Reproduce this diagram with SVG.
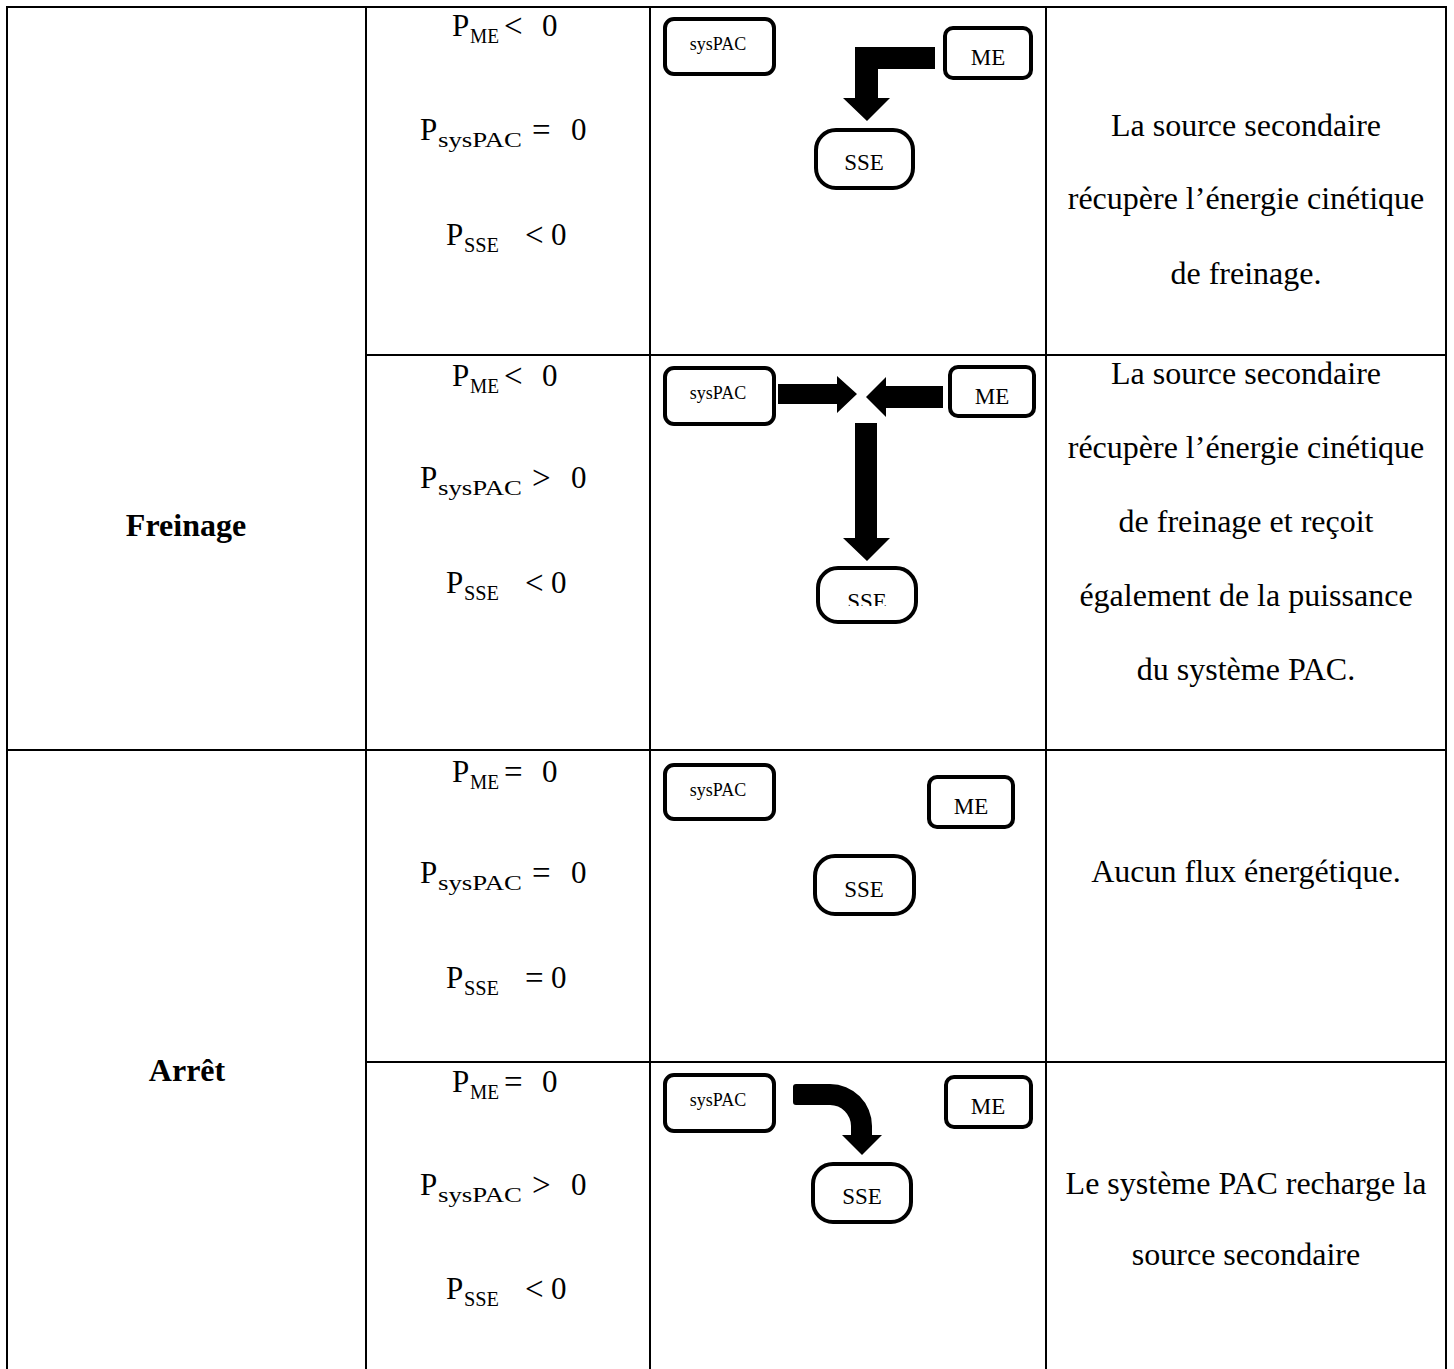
<svg xmlns="http://www.w3.org/2000/svg" width="1454" height="1369" viewBox="0 0 1454 1369">
<style>
.grid{stroke:#000;stroke-width:2;fill:none}
.box{fill:#fff;stroke:#000;stroke-width:4}
.t{font-family:"Liberation Serif","Times New Roman",serif;fill:#000}
.body{font-size:32px;text-anchor:middle}
.head{font-size:32px;font-weight:bold;text-anchor:middle}
.f{font-size:31px}
.sub{font-size:22px}
.rel{font-size:33px}
.lab{font-size:18px;text-anchor:middle}
.me{font-size:23px;text-anchor:middle}
.sse{font-size:23px;text-anchor:middle}
.arrow{fill:#000;stroke:none}
</style>
<defs>
<clipPath id="clipSSE2"><rect x="800" y="560" width="130" height="46"/></clipPath>
</defs>
<rect width="1454" height="1369" fill="#fff"/>
<g id="table">
<line class="grid" x1="6" y1="7" x2="1447" y2="7"/>
<line class="grid" x1="7" y1="6" x2="7" y2="1369"/>
<line class="grid" x1="366" y1="6" x2="366" y2="1369"/>
<line class="grid" x1="650" y1="6" x2="650" y2="1369"/>
<line class="grid" x1="1046" y1="6" x2="1046" y2="1369"/>
<line class="grid" x1="1446" y1="6" x2="1446" y2="1369"/>
<line class="grid" x1="366" y1="355" x2="1447" y2="355"/>
<line class="grid" x1="6" y1="750" x2="1447" y2="750"/>
<line class="grid" x1="366" y1="1062" x2="1447" y2="1062"/>
</g>
<g id="mode-labels">
<text class="t head" x="186" y="536">Freinage</text>
<text class="t head" x="187" y="1081">Arrêt</text>
</g>
<g id="formulas">
<text class="t f"><tspan x="452" y="36">P</tspan><tspan class="sub" x="470" y="43" textLength="29" lengthAdjust="spacingAndGlyphs">ME</tspan><tspan class="rel" x="504" y="37">&lt;</tspan><tspan x="542" y="36">0</tspan></text>
<text class="t f"><tspan x="420" y="140">P</tspan><tspan class="sub" x="438" y="147" textLength="84" lengthAdjust="spacingAndGlyphs">sysPAC</tspan><tspan class="rel" x="532" y="141">=</tspan><tspan x="571" y="140">0</tspan></text>
<text class="t f"><tspan x="446" y="245">P</tspan><tspan class="sub" x="464" y="252" textLength="35" lengthAdjust="spacingAndGlyphs">SSE</tspan><tspan class="rel" x="525" y="246">&lt;</tspan><tspan x="551" y="245">0</tspan></text>

<text class="t f"><tspan x="452" y="386">P</tspan><tspan class="sub" x="470" y="393" textLength="29" lengthAdjust="spacingAndGlyphs">ME</tspan><tspan class="rel" x="504" y="387">&lt;</tspan><tspan x="542" y="386">0</tspan></text>
<text class="t f"><tspan x="420" y="488">P</tspan><tspan class="sub" x="438" y="495" textLength="84" lengthAdjust="spacingAndGlyphs">sysPAC</tspan><tspan class="rel" x="532" y="489">&gt;</tspan><tspan x="571" y="488">0</tspan></text>
<text class="t f"><tspan x="446" y="593">P</tspan><tspan class="sub" x="464" y="600" textLength="35" lengthAdjust="spacingAndGlyphs">SSE</tspan><tspan class="rel" x="525" y="594">&lt;</tspan><tspan x="551" y="593">0</tspan></text>

<text class="t f"><tspan x="452" y="782">P</tspan><tspan class="sub" x="470" y="789" textLength="29" lengthAdjust="spacingAndGlyphs">ME</tspan><tspan class="rel" x="504" y="783">=</tspan><tspan x="542" y="782">0</tspan></text>
<text class="t f"><tspan x="420" y="883">P</tspan><tspan class="sub" x="438" y="890" textLength="84" lengthAdjust="spacingAndGlyphs">sysPAC</tspan><tspan class="rel" x="532" y="884">=</tspan><tspan x="571" y="883">0</tspan></text>
<text class="t f"><tspan x="446" y="988">P</tspan><tspan class="sub" x="464" y="995" textLength="35" lengthAdjust="spacingAndGlyphs">SSE</tspan><tspan class="rel" x="525" y="989">=</tspan><tspan x="551" y="988">0</tspan></text>

<text class="t f"><tspan x="452" y="1092">P</tspan><tspan class="sub" x="470" y="1099" textLength="29" lengthAdjust="spacingAndGlyphs">ME</tspan><tspan class="rel" x="504" y="1093">=</tspan><tspan x="542" y="1092">0</tspan></text>
<text class="t f"><tspan x="420" y="1195">P</tspan><tspan class="sub" x="438" y="1202" textLength="84" lengthAdjust="spacingAndGlyphs">sysPAC</tspan><tspan class="rel" x="532" y="1196">&gt;</tspan><tspan x="571" y="1195">0</tspan></text>
<text class="t f"><tspan x="446" y="1299">P</tspan><tspan class="sub" x="464" y="1306" textLength="35" lengthAdjust="spacingAndGlyphs">SSE</tspan><tspan class="rel" x="525" y="1300">&lt;</tspan><tspan x="551" y="1299">0</tspan></text>
</g>
<g id="descriptions">
<text class="t body"><tspan x="1246" y="136">La source secondaire</tspan><tspan x="1246" y="209">récupère l’énergie cinétique</tspan><tspan x="1246" y="284">de freinage.</tspan></text>
<text class="t body"><tspan x="1246" y="384">La source secondaire</tspan><tspan x="1246" y="458">récupère l’énergie cinétique</tspan><tspan x="1246" y="532">de freinage et reçoit</tspan><tspan x="1246" y="606">également de la puissance</tspan><tspan x="1246" y="680">du système PAC.</tspan></text>
<text class="t body" x="1246" y="882">Aucun flux énergétique.</text>
<text class="t body"><tspan x="1246" y="1194">Le système PAC recharge la</tspan><tspan x="1246" y="1265">source secondaire</tspan></text>
</g>
<!-- Row 1 -->
<g id="r1-sysPAC"><rect class="box" x="665" y="19" width="109" height="55" rx="9"/><text class="t lab" x="718" y="50">sysPAC</text></g>
<g id="r1-ME"><rect class="box" x="945" y="28" width="86" height="50" rx="8"/><text class="t me" x="988" y="65">ME</text></g>
<g id="r1-SSE"><rect class="box" x="816" y="130" width="97" height="58" rx="20"/><text class="t sse" x="864" y="170">SSE</text></g>
<!-- Row 2 -->
<g id="r2-sysPAC"><rect class="box" x="665" y="368" width="109" height="56" rx="9"/><text class="t lab" x="718" y="399">sysPAC</text></g>
<g id="r2-ME"><rect class="box" x="950" y="367" width="84" height="49" rx="8"/><text class="t me" x="992" y="404">ME</text></g>
<g id="r2-SSE"><rect class="box" x="818" y="568" width="98" height="54" rx="20"/><text class="t sse" x="867" y="609" clip-path="url(#clipSSE2)">SSE</text></g>
<!-- Row 3 -->
<g id="r3-sysPAC"><rect class="box" x="665" y="765" width="109" height="54" rx="9"/><text class="t lab" x="718" y="796">sysPAC</text></g>
<g id="r3-ME"><rect class="box" x="929" y="777" width="84" height="50" rx="8"/><text class="t me" x="971" y="814">ME</text></g>
<g id="r3-SSE"><rect class="box" x="815" y="856" width="99" height="58" rx="20"/><text class="t sse" x="864" y="897">SSE</text></g>
<!-- Row 4 -->
<g id="r4-sysPAC"><rect class="box" x="665" y="1075" width="109" height="56" rx="9"/><text class="t lab" x="718" y="1106">sysPAC</text></g>
<g id="r4-ME"><rect class="box" x="946" y="1077" width="85" height="50" rx="8"/><text class="t me" x="988" y="1114">ME</text></g>
<g id="r4-SSE"><rect class="box" x="813" y="1164" width="98" height="58" rx="20"/><text class="t sse" x="862" y="1204">SSE</text></g>
<g id="connectors">
<polygon class="arrow" points="935,47 855,47 855,98 843,98 867,121 890,98 878,98 878,69 935,69"/>
<polygon class="arrow" points="778,384 837,384 837,376 857,394 837,413 837,404 778,404"/>
<polygon class="arrow" points="943,386 886,386 886,377 866,397 886,417 886,408 943,408"/>
<polygon class="arrow" points="855,423 877,423 877,538 890,538 867,561 843,538 855,538"/>
<path class="arrow" d="M796,1084 H830 A42 42 0 0 1 872,1126 V1135 H882 L862,1155 L842,1135 H851 V1126 A21 21 0 0 0 830,1105 H796 Q793,1105 793,1102 V1087 Q793,1084 796,1084 Z"/>
</g>
</svg>
